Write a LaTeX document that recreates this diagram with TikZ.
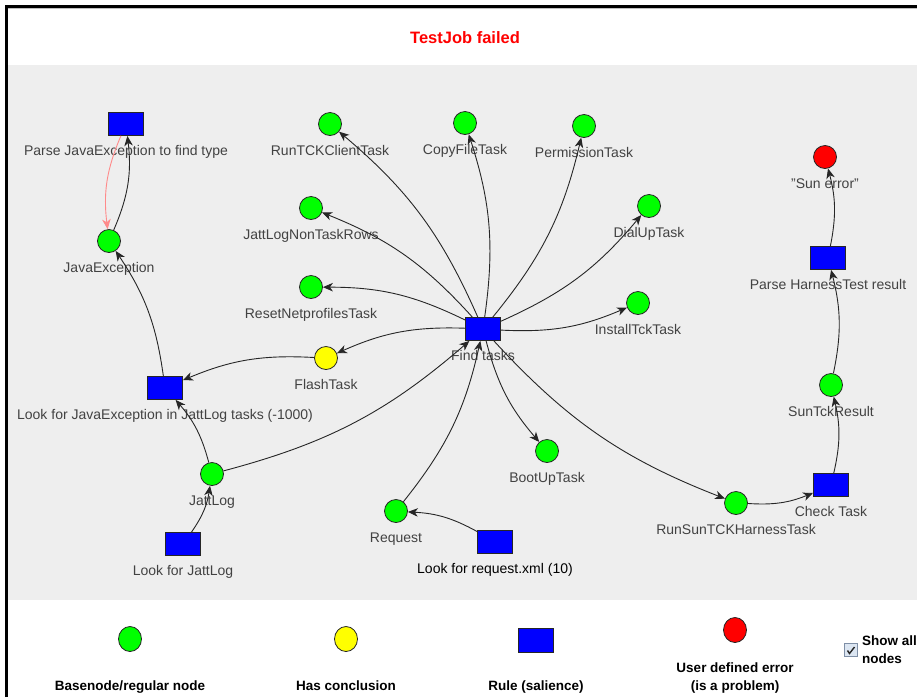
\documentclass[tikz,border=0pt]{standalone}
\usepackage{fontspec}
\setmainfont{Liberation Sans}
\usetikzlibrary{arrows.meta,shapes.geometric}
\definecolor{bggray}{HTML}{EEEEEE}
\definecolor{txtgray}{HTML}{424242}
\definecolor{edgecol}{HTML}{262626}
\definecolor{ngreen}{HTML}{00FF00}
\definecolor{nyellow}{HTML}{FFFF00}
\definecolor{nblue}{HTML}{0000FF}
\definecolor{nred}{HTML}{FF0000}
\definecolor{pinkedge}{HTML}{FF8A8A}
\definecolor{boxfill}{HTML}{DCE6F2}
\definecolor{boxline}{HTML}{7F8FA6}
\begin{document}
\begin{tikzpicture}[x=1pt,y=1pt,
  basenode/.style={circle,draw=edgecol,line width=0.8pt,minimum size=23pt,inner sep=0pt,fill=ngreen},
  concl/.style={basenode,fill=nyellow},
  errnode/.style={basenode,fill=nred},
  rulebox/.style={rectangle,draw=edgecol,line width=0.8pt,minimum width=35pt,minimum height=23pt,inner sep=0pt,fill=nblue},
  legell/.style={ellipse,draw=edgecol,line width=0.8pt,minimum width=23pt,minimum height=25pt,inner sep=0pt},
  lbl/.style={anchor=base,text=txtgray,font=\fontsize{14}{16}\selectfont,inner sep=0pt},
  legtxt/.style={anchor=base,font=\fontsize{13.5}{15}\selectfont\bfseries,inner sep=0pt},
  edge/.style={draw=edgecol,line width=0.9pt,-{Stealth[length=10pt,width=8.5pt,inset=3pt]},bend right=13},
]
\useasboundingbox (0,0) rectangle (917,-697);
\fill[white] (0,0) rectangle (917,-697);
\fill[bggray] (8,-65) rectangle (917,-600);
\draw[line width=0.6pt,color=black!25] (8,-8.6) -- (917,-8.6);
\draw[line width=3pt] (6.5,-697) -- (6.5,-6.5) -- (917,-6.5);

% title
\node[anchor=base,text=red,font=\fontsize{16.5}{19}\selectfont\bfseries,inner sep=0pt] (title) at (465,-43.5) {TestJob failed};

% labels
\node[lbl] (l-pje) at (126,-155) {Parse JavaException to find type};
\node[lbl] (l-jex) at (109,-272) {JavaException};
\node[lbl] (l-rtc) at (330,-155) {RunTCKClientTask};
\node[lbl] (l-cft) at (465,-154) {CopyFileTask};
\node[lbl] (l-prm) at (584,-157) {PermissionTask};
\node[lbl] (l-jlr) at (311,-239) {JattLogNonTaskRows};
\node[lbl] (l-dut) at (649,-237) {DialUpTask};
\node[lbl] (l-rnp) at (311,-318) {ResetNetprofilesTask};
\node[lbl] (l-itt) at (638,-334) {InstallTckTask};
\node[lbl] (l-fnd) at (483,-360) {Find tasks};
\node[lbl] (l-fls) at (326,-389) {FlashTask};
\node[lbl] (l-lje) at (165,-419) {Look for JavaException in JattLog tasks (-1000)};
\node[lbl] (l-jlg) at (212,-505) {JattLog};
\node[lbl] (l-ljl) at (183,-575) {Look for JattLog};
\node[lbl] (l-req) at (396,-542) {Request};
\node[lbl,text=black] (l-lrq) at (495,-573) {Look for request.xml (10)};
\node[lbl] (l-but) at (547,-482) {BootUpTask};
\node[lbl] (l-rsh) at (736,-534) {RunSunTCKHarnessTask};
\node[lbl] (l-chk) at (831,-516) {Check Task};
\node[lbl] (l-stc) at (831,-416) {SunTckResult};
\node[lbl] (l-phr) at (828,-289) {Parse HarnessTest result};
\node[lbl] (l-sne) at (825,-188) {"Sun error"};

% nodes
\node[rulebox] (pje) at (126,-124) {};
\node[basenode] (jex) at (109,-241) {};
\node[basenode] (rtc) at (330,-124) {};
\node[basenode] (cft) at (465,-123) {};
\node[basenode] (prm) at (584,-126) {};
\node[basenode] (jlr) at (311,-208) {};
\node[basenode] (dut) at (649,-206) {};
\node[basenode] (rnp) at (311,-287) {};
\node[basenode] (itt) at (638,-303) {};
\node[rulebox] (fnd) at (483,-329) {};
\node[concl] (fls) at (326,-358) {};
\node[rulebox] (lje) at (165,-388) {};
\node[basenode] (jlg) at (212,-474) {};
\node[rulebox] (ljl) at (183,-544) {};
\node[basenode] (req) at (396,-511) {};
\node[rulebox] (lrq) at (495,-542) {};
\node[basenode] (but) at (547,-451) {};
\node[basenode] (rsh) at (736,-503) {};
\node[rulebox] (chk) at (831,-485) {};
\node[basenode] (stc) at (831,-385) {};
\node[rulebox] (phr) at (828,-258) {};
\node[errnode] (sne) at (825,-157) {};

% edges
\draw[edge] (fnd) to (rtc);
\draw[edge] (fnd) to (cft);
\draw[edge] (fnd) to (prm);
\draw[edge] (fnd) to (jlr);
\draw[edge] (fnd) to (dut);
\draw[edge] (fnd) to (rnp);
\draw[edge] (fnd) to (itt);
\draw[edge] (fnd) to (fls);
\draw[edge] (fnd) to (but);
\draw[edge] (fnd) to (rsh);
\draw[edge] (jlg) to (fnd);
\draw[edge] (req) to (fnd);
\draw[edge] (fls) to (lje);
\draw[edge] (jlg) to (lje);
\draw[edge] (lje) to (jex);
\draw[edge,bend right=15] (jex) to (pje);
\draw[edge,bend right=15,draw=pinkedge] (pje) to (jex);
\draw[edge] (ljl) to (jlg);
\draw[edge] (lrq) to (req);
\draw[edge] (rsh) to (chk);
\draw[edge] (chk) to (stc);
\draw[edge] (stc) to (phr);
\draw[edge] (phr) to (sne);

% legend
\node[legell,fill=ngreen] (lg1) at (130,-639) {};
\node[legell,fill=nyellow] (lg2) at (346,-639) {};
\node[rulebox,minimum width=35pt,minimum height=24pt] (lg3) at (536,-640) {};
\node[legell,fill=nred] (lg4) at (735,-630) {};
\node[legtxt] (lt1) at (130,-690.5) {Basenode/regular node};
\node[legtxt] (lt2) at (346,-690.5) {Has conclusion};
\node[legtxt] (lt3) at (536,-690.5) {Rule (salience)};
\node[legtxt] (lt4a) at (735,-672.5) {User defined error};
\node[legtxt] (lt4b) at (735,-690.5) {(is a problem)};
\node[rectangle,draw=boxline,fill=boxfill,line width=0.8pt,minimum size=13pt,inner sep=0pt] (cb) at (851,-650) {};
\draw[line width=1.4pt,color=black!85] ([shift={(-3.5,-0.5)}]cb.center) -- ([shift={(-1.5,-3.5)}]cb.center) -- ([shift={(3.5,3)}]cb.center);
\node[legtxt,anchor=base west] (sa1) at (862,-645) {Show all};
\node[legtxt,anchor=base west] (sa2) at (862,-663) {nodes};
\end{tikzpicture}
\end{document}
